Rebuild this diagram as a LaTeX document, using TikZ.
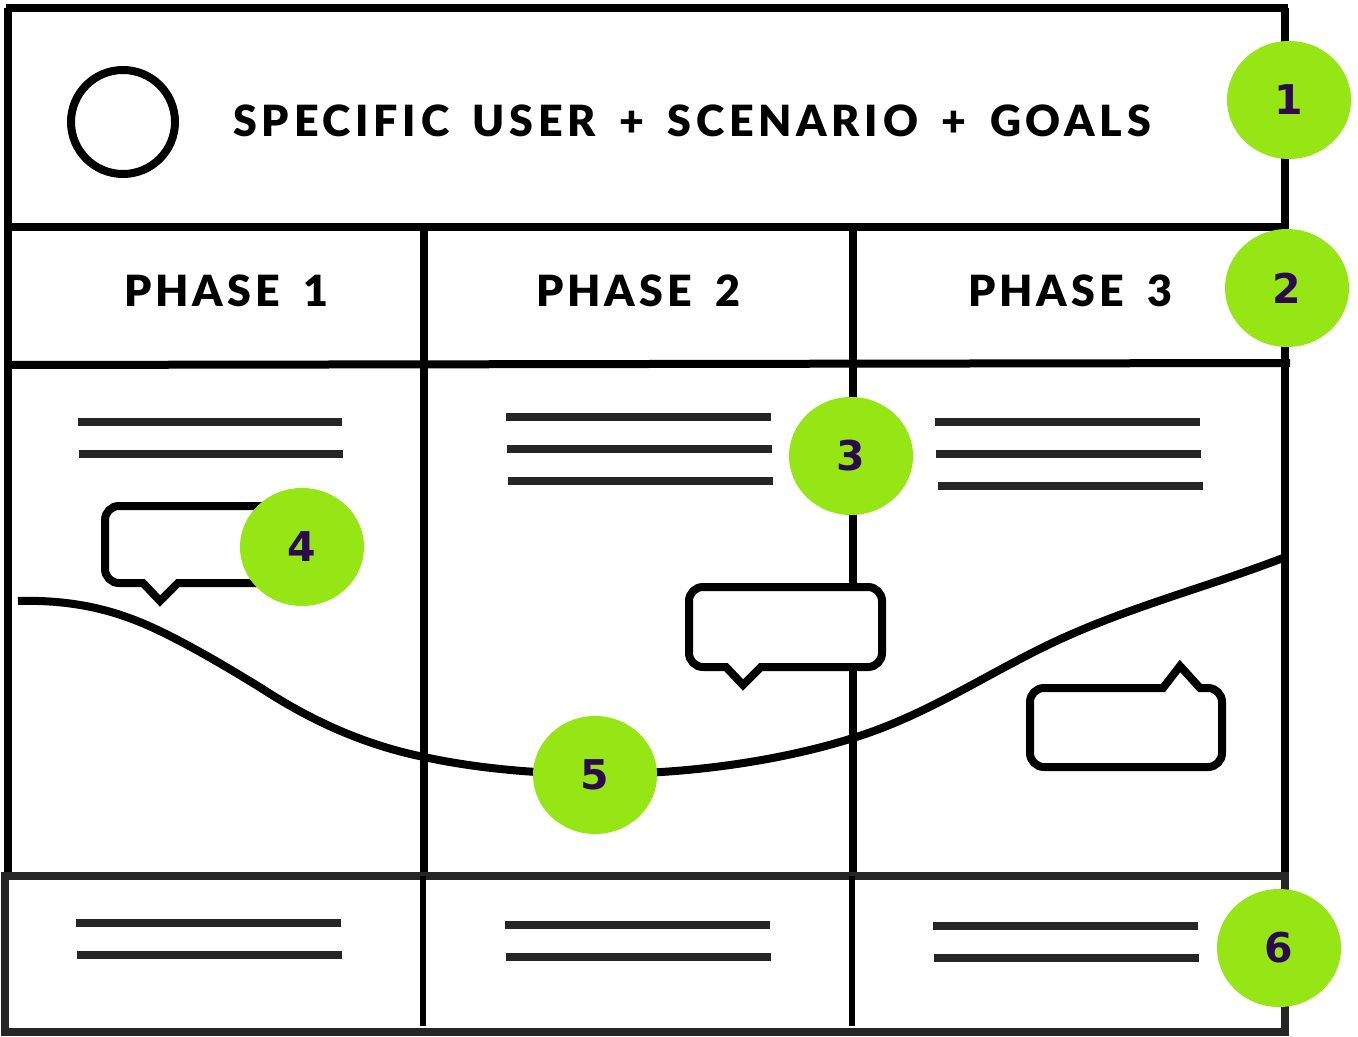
\documentclass[tikz,border=0pt]{standalone}
\usepackage{fontspec}
\setmainfont{Lato}
\newfontfamily\capsfont[LetterSpace=11,WordSpace=1.6]{Lato Black}
\newfontfamily\phasefont[LetterSpace=9,WordSpace=1.7]{Lato Black}
\newfontfamily\numfont{DejaVu Sans Bold}
\definecolor{badgegreen}{HTML}{95E614}
\definecolor{badgetext}{HTML}{2D0A4E}
\definecolor{softblack}{HTML}{262626}
\tikzset{
  grid/.style={line width=4pt,black},
  softgrid/.style={line width=4pt,softblack},
  textline/.style={line width=4pt,softblack},
  bubble/.style={line width=4pt,black,fill=white,rounded corners=7pt,line join=miter},
  curve/.style={line width=4pt,black},
  badge/.style={ellipse,fill=badgegreen,minimum width=62pt,minimum height=59pt,inner sep=0pt,text=badgetext,font=\numfont\fontsize{20.5}{24}\selectfont},
  caption/.style={anchor=west,inner sep=0pt,font=\capsfont\fontsize{21.5}{24}\selectfont,text=black},
  phasecap/.style={anchor=west,inner sep=0pt,font=\phasefont\fontsize{21.5}{24}\selectfont,text=black}
}
\usetikzlibrary{shapes.geometric}
\begin{document}
\begin{tikzpicture}[x=0.5pt,y=-0.5pt]
\useasboundingbox (0,0) rectangle (1358,1037);
\fill[white] (0,0) rectangle (1358,1037);
% frame
\draw[grid] (6,8) -- (1288,8);
\draw[grid] (8,8) -- (8,876);
\draw[grid] (1285,8) -- (1285,876);
\draw[grid] (5,227) -- (1284,227);
\draw[grid] (8,365) -- (1290,363);
\draw[grid] (424,227) -- (424,876);
\draw[grid] (853,227) -- (853,876);
% footer
\draw[softgrid] (5,876) rectangle (1285,1032);
\draw[line width=3pt,black] (423,876) -- (423,1026);
\draw[line width=3pt,black] (852,876) -- (852,1026);
% persona
\node[circle,draw=black,line width=4pt,minimum size=52pt,inner sep=0pt] (persona) at (123,122) {};
\node[caption] (title) at (233,121) {SPECIFIC USER + SCENARIO + GOALS};
\node[phasecap] (phaseA) at (124,291) {PHASE 1};
\node[phasecap] (phaseB) at (536,291) {PHASE 2};
\node[phasecap] (phaseC) at (968,291) {PHASE 3};
% text lines
\draw[textline] (78,422) -- (342,422);
\draw[textline] (79,454) -- (343,454);
\draw[textline] (506,417) -- (771,417);
\draw[textline] (507,449) -- (772,449);
\draw[textline] (508,481) -- (773,481);
\draw[textline] (935,422) -- (1200,422);
\draw[textline] (936,454) -- (1201,454);
\draw[textline] (938,486) -- (1203,486);
\draw[textline] (76,923) -- (341,923);
\draw[textline] (77,955) -- (342,955);
\draw[textline] (505,925) -- (770,925);
\draw[textline] (506,957) -- (771,957);
\draw[textline] (933,926) -- (1198,926);
\draw[textline] (934,958) -- (1199,958);
% speech bubbles
\draw[bubble] (143,583) -- (105,583) -- (105,506) -- (300,506) -- (300,583)
  [sharp corners] -- (178,583) -- (160,601) -- cycle;
\draw[bubble] (726,667) -- (689,667) -- (689,587) -- (882,587) -- (882,667)
  [sharp corners] -- (761,667) -- (743,685) -- cycle;
\draw[bubble] (1200,688) -- (1222,688) -- (1222,767) -- (1030,767) -- (1030,688)
  [sharp corners] -- (1163,688) -- (1180,666) -- cycle;
% journey curve
\draw[curve] (18,601) .. controls (90,599) and (135,618) .. (174,638)
  .. controls (205,654) and (235,672) .. (261,688)
  .. controls (295,710) and (350,742) .. (424,757)
  .. controls (470,767) and (530,774) .. (600,774)
  .. controls (700,774) and (790,758) .. (853,738)
  .. controls (925,716) and (985,675) .. (1050,644)
  .. controls (1125,608) and (1205,588) .. (1283,558);
% badges
\node[badge] (b1) at (1289,100) {1};
\node[badge] (b2) at (1287,288) {2};
\node[badge] (b3) at (851,456) {3};
\node[badge] (b4) at (302,547) {4};
\node[badge] (b5) at (595,775) {5};
\node[badge] (b6) at (1279,948) {6};
\end{tikzpicture}
\end{document}
